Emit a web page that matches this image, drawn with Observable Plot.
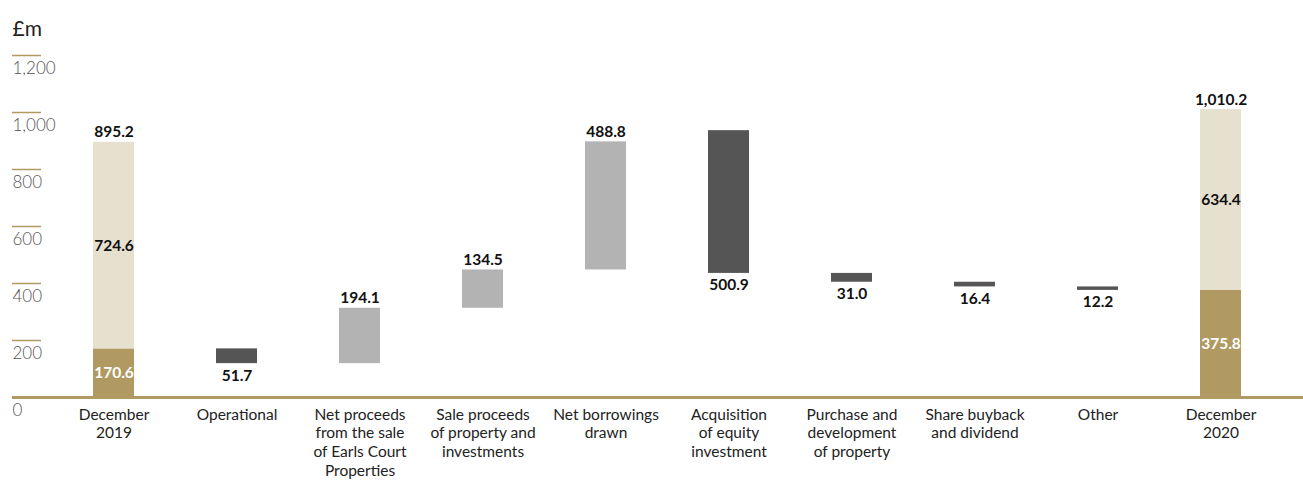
<!DOCTYPE html>
<html>
<head>
<meta charset="utf-8">
<script src="https://cdn.jsdelivr.net/npm/d3@7"></script>
<script src="https://cdn.jsdelivr.net/npm/@observablehq/plot@0.6"></script>
<style>
  html, body { margin: 0; padding: 0; background: #fff; }
  #chart svg { display: block; }
</style>
</head>
<body>
<div id="chart"></div>
<script>
// Categories (x axis labels)
const categories = [
  "December\n2019",
  "Operational",
  "Net proceeds\nfrom the sale\nof Earls Court\nProperties",
  "Sale proceeds\nof property and\ninvestments",
  "Net borrowings\ndrawn",
  "Acquisition\nof equity\ninvestment",
  "Purchase and\ndevelopment\nof property",
  "Share buyback\nand dividend",
  "Other",
  "December\n2020"
];

// Opening / closing totals (£m)
const totalCategories = ["December\n2019", "December\n2020"];
const totalCash = [170.6, 375.8];
const totalOther = [724.6, 634.4];
const totalLabels = ["895.2", "1,010.2"];

// Waterfall steps (£m), bar extents
const stepCategories = categories.slice(1, 9);
const stepStart = [170.6, 118.9, 313.0, 447.5, 936.3, 435.4, 404.4, 388.0];
const stepEnd   = [118.9, 313.0, 447.5, 897.0, 435.4, 404.4, 388.0, 375.8];
const stepValues = [51.7, 194.1, 134.5, 488.8, 500.9, 31.0, 16.4, 12.2];

// Y ticks
const yTicks = [0, 200, 400, 600, 800, 1000, 1200];

const GOLD = "#b09a62";
const BEIGE = "#e6e0cf";
const DARK = "#555555";
const LIGHT = "#b3b3b3";

const totals = totalCategories.map((c, i) => ({
  cat: c, cash: totalCash[i], other: totalOther[i],
  top: totalCash[i] + totalOther[i], label: totalLabels[i]
}));
const steps = stepCategories.map((c, i) => ({
  cat: c, start: stepStart[i], end: stepEnd[i], value: stepValues[i],
  up: stepEnd[i] > stepStart[i]
}));
const fmt = d3.format(",.1f");

const chart = Plot.plot({
  width: 1303,
  height: 480,
  marginTop: 55,
  marginBottom: 83,
  marginLeft: 41,
  marginRight: 0,
  style: { fontFamily: "Lato, 'Open Sans', sans-serif", background: "#fff" },
  x: { domain: categories, range: [50, 1283], paddingInner: 0.667, paddingOuter: 0.333, axis: null },
  y: { domain: [0, 1200], axis: null },
  marks: [
    // y ticks (short gold lines) and labels
    Plot.axisY(yTicks, { anchor: "left", tickSize: 29, stroke: GOLD, strokeOpacity: 1, strokeWidth: 1.5, tickFormat: () => "" }),
    Plot.text(yTicks, { y: d => d, text: d => d3.format(",")(d), frameAnchor: "left", lineAnchor: "middle",
      dx: -29, dy: 13, textAnchor: "start", fontSize: 17, fill: "#555", fontWeight: 300 }),
    // unit label
    Plot.text(["£m"], { text: d => d, frameAnchor: "top-left", lineAnchor: "middle", dx: -29, dy: -26,
      textAnchor: "start", fontSize: 21, fill: "#222" }),
    // totals
    Plot.barY(totals, { x: "cat", y1: 0, y2: "cash", fill: GOLD }),
    Plot.barY(totals, { x: "cat", y1: "cash", y2: "top", fill: BEIGE }),
    // steps
    Plot.barY(steps.filter(d => d.up), { x: "cat", y1: "start", y2: "end", fill: LIGHT }),
    Plot.barY(steps.filter(d => !d.up), { x: "cat", y1: "start", y2: "end", fill: DARK }),
    // baseline
    Plot.ruleY([0], { stroke: GOLD, strokeWidth: 3 }),
    Plot.ruleY([0], { stroke: GOLD, strokeWidth: 3, dx: -29 }),
    // total labels
    Plot.text(totals, { x: "cat", y: "top", text: "label", lineAnchor: "bottom", dy: -5,
      fontSize: 15.5, fontWeight: "bold", fill: "#111" }),
    Plot.text(totals, { x: "cat", y: d => d.cash + d.other / 2, text: d => fmt(d.other),
      fontSize: 15.5, fontWeight: "bold", fill: "#111" }),
    Plot.text(totals, { x: "cat", y: d => d.cash / 2, text: d => fmt(d.cash),
      fontSize: 15.5, fontWeight: "bold", fill: "#fff" }),
    // step labels
    Plot.text(steps.filter(d => d.up), { x: "cat", y: "end", text: d => fmt(d.value), lineAnchor: "bottom", dy: -5,
      fontSize: 15.5, fontWeight: "bold", fill: "#111" }),
    Plot.text(steps.filter(d => !d.up), { x: "cat", y: "end", text: d => fmt(d.value), lineAnchor: "top", dy: 6,
      fontSize: 15.5, fontWeight: "bold", fill: "#111" }),
    // x category labels
    Plot.text(categories, { x: d => d, text: d => d, frameAnchor: "bottom", lineAnchor: "top", dy: 9,
      fontSize: 15.5, lineHeight: 1.2, fill: "#222" })
  ]
});
document.getElementById("chart").appendChild(chart);
</script>
</body>
</html>
